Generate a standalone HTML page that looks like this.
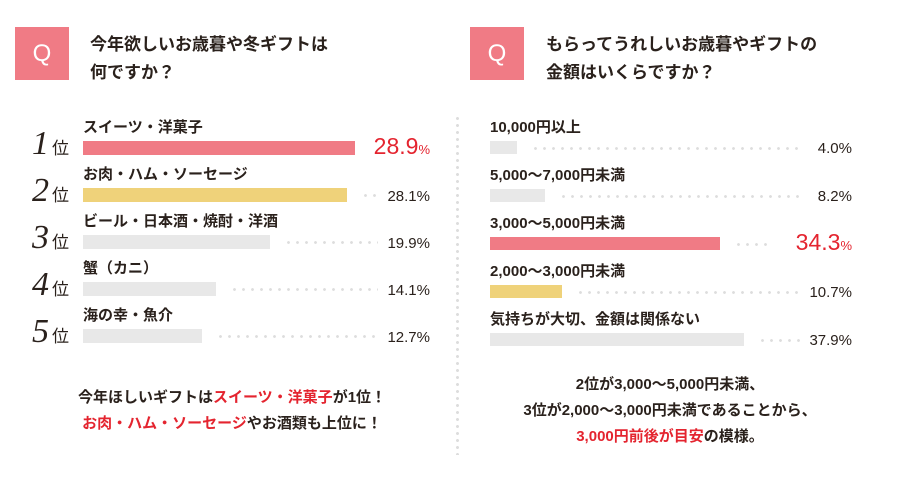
<!DOCTYPE html>
<html><head><meta charset="utf-8"><style>
body{margin:0;width:900px;height:478px;background:#fff;position:relative;overflow:hidden;font-family:"Liberation Sans","Noto Sans CJK JP",sans-serif;color:#2a211c}
.abs{position:absolute}
.q{position:absolute;width:54px;height:53px;background:#f07b85;color:#fff;font-size:24px;text-align:center;line-height:53px}
.title{position:absolute;font-size:17px;line-height:28px;font-weight:bold}
.lbl{position:absolute;font-size:15px;font-weight:bold;white-space:nowrap;line-height:16px}
.val{position:absolute;font-size:15px;text-align:right;width:80px;line-height:16px;font-weight:500}
.big{color:#e4242f;font-size:23px}
.big small{font-size:13px}
.rank{position:absolute;font-family:"Liberation Serif",serif;font-style:italic;font-size:34px;line-height:30px}
.rank span{font-family:"Liberation Sans","Noto Sans CJK JP",sans-serif;font-style:normal;font-size:17px;margin-left:3px}
.dots{position:absolute;height:3px;background:radial-gradient(circle,#ddd 1.2px,transparent 1.6px) 0 0/9px 3px repeat-x}
.note{position:absolute;font-size:15px;text-align:center;line-height:26px;white-space:nowrap;font-weight:bold}
.red{color:#e4242f}
</style></head><body>
<div class="q" style="left:15px;top:27px">Q</div>
<div class="title" style="left:90px;top:31px">今年欲しいお歳暮や冬ギフトは<br>何ですか？</div>
<div class="q" style="left:470px;top:27px">Q</div>
<div class="title" style="left:546px;top:31px">もらってうれしいお歳暮やギフトの<br>金額はいくらですか？</div>
<div class="abs" style="left:456px;top:115px;height:340px;width:3px;background:radial-gradient(circle,#ddd 1.3px,transparent 1.7px) 0 0/3px 7px repeat-y"></div>
<div id="left"></div>
<div id="right"></div>
<div class="note" style="left:232px;top:385px;transform:translateX(-50%)">今年ほしいギフトは<span class="red">スイーツ・洋菓子</span>が1位！<br><span class="red">お肉・ハム・ソーセージ</span>やお酒類も上位に！</div>
<div class="note" style="left:670px;top:372px;transform:translateX(-50%)">2位が3,000～5,000円未満、<br>3位が2,000～3,000円未満であることから、<br><span class="red">3,000円前後が目安</span>の模様。</div>
<script>
const leftCats=["スイーツ・洋菓子","お肉・ハム・ソーセージ","ビール・日本酒・焼酎・洋酒","蟹（カニ）","海の幸・魚介"];
const leftVals=[28.9,28.1,19.9,14.1,12.7];
const rightCats=["10,000円以上","5,000～7,000円未満","3,000～5,000円未満","2,000～3,000円未満","気持ちが大切、金額は関係ない"];
const rightVals=[4.0,8.2,34.3,10.7,37.9];
const leftColors=["#f07b85","#efd27a","#e8e8e8","#e8e8e8","#e8e8e8"];
const rightColors=["#e8e8e8","#e8e8e8","#f07b85","#efd27a","#e8e8e8"];
function mk(cls,style,html,name){const d=document.createElement('div');d.className=cls;d.style.cssText=style;d.innerHTML=html;


document.body.appendChild(d);return d;}
function chart(cats,vals,colors,x0,scale,valRight,rowH,barH,ranks,hi){
 vals.forEach((v,i)=>{
  const top=141+i*rowH;
  const w=v*scale;
  mk('lbl',`left:${x0}px;top:${top-21}px`,cats[i],'bar-label');
  mk('abs',`left:${x0}px;top:${top}px;width:${w}px;height:${barH}px;background:${colors[i]}`,'','bar');
  const isHi=i===hi;
  const vEnd=valRight-(isHi?80:52);
  mk('dots',`left:${x0+w+14}px;top:${top+barH/2-1}px;width:${Math.max(0,vEnd-(x0+w+14))}px`,'','leader-dots');
  if(isHi) mk('val big',`left:${valRight-100}px;width:100px;top:${top-6}px;line-height:22px`,v.toFixed(1)+'<small>%</small>','value-label');
  else mk('val',`left:${valRight-80}px;top:${top+barH-13}px`,v.toFixed(1)+'%','value-label');
  if(ranks) mk('rank',`left:32px;top:${top-12}px`,(i+1)+'<span>位</span>','rank-label');
 });
}
chart(leftCats,leftVals,leftColors,83,9.4,430,47,14,true,0);
chart(rightCats,rightVals,rightColors,490,6.7,852,48,13,false,2);
</script>
</body></html>
